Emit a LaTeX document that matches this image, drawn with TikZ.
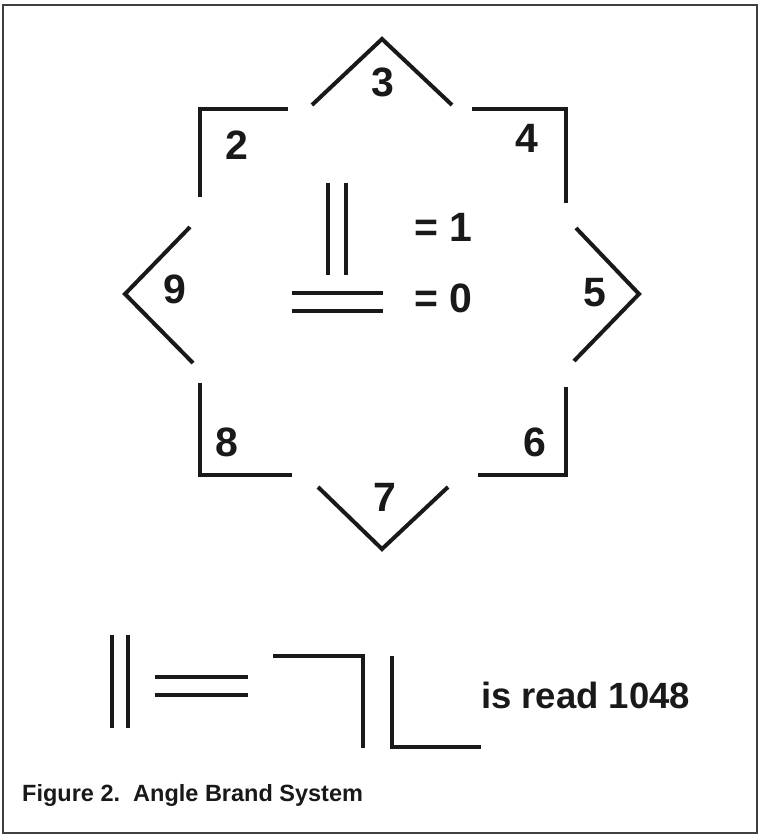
\documentclass[tikz,border=0pt]{standalone}
\usepackage{fontspec}
\setmainfont{Liberation Sans}
\begin{document}
\begin{tikzpicture}[
  x=1pt,
  y=-1pt,
  brandline/.style={line width=4pt, line join=miter, line cap=butt, black!90},
  numlabel/.style={font=\fontsize{41}{41}\selectfont\bfseries, inner sep=0pt, text=black!90},
  readlabel/.style={font=\fontsize{36.5}{36.5}\selectfont\bfseries, inner sep=0pt, text=black!90},
  caplabel/.style={font=\fontsize{23.5}{23.5}\selectfont\bfseries, inner sep=0pt, text=black!90}
]
\useasboundingbox (0,0) rectangle (760,836);
\draw[line width=1.6pt, black!75] (3,5) rectangle (757,833);

% star of angle positions
\draw[brandline] (288,109) -- (200,109) -- (200,197);
\draw[brandline] (312,105) -- (382,39) -- (452,105);
\draw[brandline] (472,109) -- (566,109) -- (566,203);
\draw[brandline] (576,228) -- (639,294) -- (574,361);
\draw[brandline] (566,387) -- (566,475) -- (478,475);
\draw[brandline] (448,487) -- (382,549) -- (318,487);
\draw[brandline] (292,475) -- (200,475) -- (200,383);
\draw[brandline] (193,363) -- (125,294) -- (190,227);

\node[numlabel] (n2) at (237,145) {2};
\node[numlabel] (n3) at (383,82) {3};
\node[numlabel] (n4) at (527,138) {4};
\node[numlabel] (n5) at (595,293) {5};
\node[numlabel] (n6) at (535,442) {6};
\node[numlabel] (n7) at (385,497) {7};
\node[numlabel] (n8) at (227,442) {8};
\node[numlabel] (n9) at (175,289) {9};

% key
\draw[brandline] (328,183) -- (328,275);
\draw[brandline] (346,183) -- (346,275);
\draw[brandline] (292,293) -- (383,293);
\draw[brandline] (292,311) -- (383,311);
\node[numlabel, anchor=west] (eq1) at (414,227) {= 1};
\node[numlabel, anchor=west] (eq0) at (414,298) {= 0};

% example brand
\draw[brandline] (112,635) -- (112,728);
\draw[brandline] (128,635) -- (128,728);
\draw[brandline] (155,677) -- (248,677);
\draw[brandline] (155,695) -- (248,695);
\draw[brandline] (273,656) -- (363,656) -- (363,748);
\draw[brandline] (392,656) -- (392,747) -- (481,747);
\node[readlabel, anchor=west] (readtxt) at (481,695) {is read 1048};

\node[caplabel, anchor=west] (caption) at (22,795) {Figure 2.\ \ Angle Brand System};
\end{tikzpicture}
\end{document}
